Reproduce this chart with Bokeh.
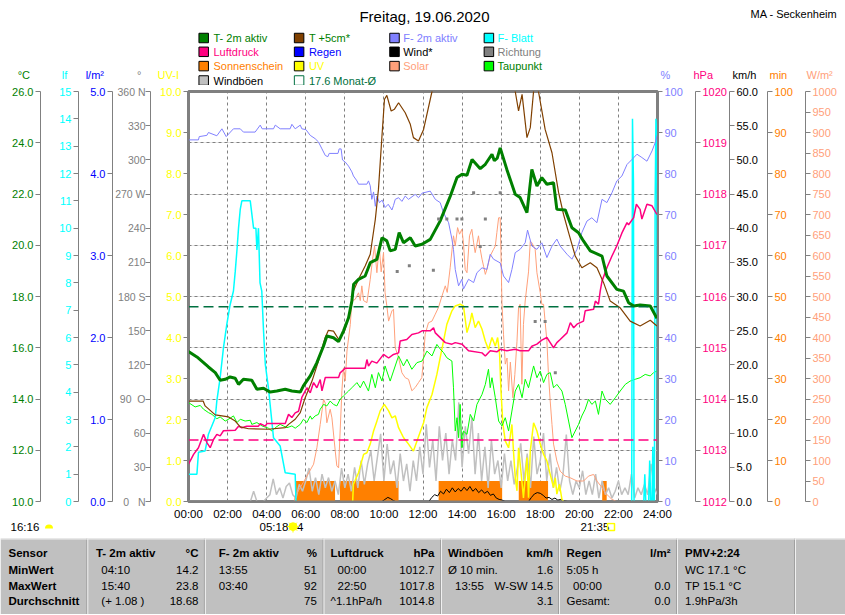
import math
from bokeh.plotting import figure
from bokeh.models import (Range1d, LinearAxis, FixedTicker, Grid, Span)
from bokeh.layouts import column
from bokeh.embed import file_html
from bokeh.resources import INLINE
from bokeh.core.properties import value

FONT = "Liberation Sans"
NAN = float("nan")

# ---------------------------------------------------------------- data
hour_ticks = list(range(0, 25, 2))

t2m_h = [0.00,0.43,0.77,1.02,1.37,1.62,1.88,2.13,2.39,2.56,2.81,3.24,3.50,3.84,4.18,4.52,4.95,5.29,5.72,5.88,
         6.23,6.57,6.91,7.08,7.42,7.68,7.93,8.19,8.36,8.45,8.70,9.04,9.30,9.64,9.90,10.15,10.32,10.58,10.78,11.00,
         11.35,11.60,11.95,12.37,12.88,13.40,13.74,14.00,14.25,14.51,14.93,15.19,15.53,15.65,15.80,15.95,16.29,16.72,16.97,17.32,
         17.57,17.83,18.08,18.34,18.68,18.85,19.28,19.62,19.96,20.21,20.56,21.16,21.41,21.92,22.26,22.52,22.78,23.11,23.63,23.97]
t2m_c = [15.85,15.64,15.42,15.25,15.03,14.73,14.77,14.86,14.81,14.57,14.77,14.73,14.38,14.42,14.27,14.31,14.38,14.31,14.27,14.51,
         14.90,15.42,16.07,16.46,16.39,16.24,16.65,17.17,17.82,18.48,18.67,18.80,19.32,19.45,20.29,20.17,19.78,19.84,20.49,20.10,
         20.29,19.97,20.04,20.23,20.95,21.92,22.64,22.77,22.73,23.35,22.99,23.16,23.55,23.30,23.40,23.80,22.96,21.99,21.86,21.27,
         22.96,22.31,22.64,22.38,22.44,21.40,21.38,20.68,20.49,20.17,19.78,19.58,18.80,18.28,18.21,17.76,17.63,17.67,17.63,17.15]

t5_h = [0.00,0.75,0.85,1.37,2.05,2.39,2.65,3.07,4.09,4.95,5.12,5.46,5.72,5.97,6.32,6.65,6.99,7.16,7.42,7.68,
        7.98,8.19,8.44,8.70,9.04,9.30,9.56,9.72,9.90,10.03,10.15,10.37,10.54,10.75,11.09,11.35,11.51,11.77,12.03,12.46,
        13.20,14.50,15.80,16.50,16.72,16.89,17.07,17.32,17.49,17.66,17.78,17.91,18.25,18.60,18.94,19.19,19.45,19.79,20.13,20.56,
        20.90,21.24,21.58,22.09,22.60,23.11,23.63,23.97]
t5_c = [13.92,13.92,13.73,13.38,13.30,13.14,12.91,12.84,12.82,12.88,13.01,13.21,13.47,14.05,14.70,15.48,16.39,16.68,16.65,16.33,
        16.65,17.17,18.21,18.67,19.19,19.65,21.01,22.18,24.26,25.70,25.85,25.24,25.31,25.56,25.17,24.72,24.20,24.07,24.52,26.00,
        28.50,29.50,28.50,26.80,26.00,25.24,25.89,24.20,24.59,26.02,26.80,26.00,24.52,23.61,22.05,21.21,20.49,19.58,19.12,19.32,
        19.12,18.54,17.82,17.56,17.04,16.85,17.07,16.85]

f2m_h = [0.00,0.51,0.55,0.94,1.02,1.45,1.71,1.93,2.30,2.65,2.81,3.41,3.67,3.77,4.35,4.44,4.69,5.20,5.29,5.46,
         5.72,5.80,6.01,6.23,6.48,6.65,6.83,7.00,7.13,7.20,7.65,7.71,7.81,7.88,8.02,8.19,8.36,8.44,8.62,8.70,
         9.13,9.21,9.30,9.38,9.47,9.56,9.64,9.77,9.91,10.06,10.22,10.41,10.49,10.58,10.75,10.92,11.09,11.26,11.60,11.77,
         11.95,12.37,12.63,12.88,13.05,13.31,13.48,13.56,13.65,13.82,13.99,14.07,14.33,14.59,14.76,15.02,15.27,15.44,15.61,15.95,
         16.12,16.38,16.55,16.72,16.97,17.23,17.35,17.57,17.83,18.08,18.34,18.60,18.85,19.02,19.37,19.62,19.88,20.13,20.39,20.64,
         20.90,21.16,21.41,21.67,21.92,22.18,22.44,22.69,22.95,23.20,23.46,23.72,23.88,24.00]
f2m_pct = [88.2,88.2,89.0,89.3,90.0,89.2,90.9,89.0,90.9,90.9,90.1,90.1,91.8,90.9,90.9,91.8,90.9,90.9,92.0,90.9,
           91.8,90.9,90.7,89.3,88.5,87.7,86.0,84.4,84.1,84.9,84.9,86.0,86.0,83.3,82.8,81.8,80.4,79.4,78.2,77.4,
           77.4,78.2,77.0,73.7,75.5,72.0,74.5,72.9,73.5,71.7,72.5,71.1,72.2,73.7,74.1,73.2,74.5,73.7,74.9,74.1,
           75.2,75.7,73.7,72.9,70.4,68.0,64.0,61.5,56.6,52.6,54.2,51.8,54.2,53.4,55.8,57.0,56.6,60.3,59.1,58.2,
           55.0,53.4,56.6,60.7,61.5,63.1,66.2,62.3,61.5,63.1,59.5,62.3,64.0,62.3,60.3,59.1,61.5,65.6,68.4,69.2,
           68.0,73.7,72.9,75.3,78.2,79.4,82.2,83.4,84.7,83.9,83.0,85.5,87.5,89.5]

dew_h = [0.00,0.34,0.60,0.77,1.02,1.20,1.45,1.62,1.88,2.13,2.30,2.48,2.65,2.90,3.16,3.24,3.50,3.76,4.09,4.27,
         4.44,4.69,5.04,5.29,5.46,5.72,5.88,6.06,6.23,6.32,6.48,6.65,6.74,6.91,7.08,7.25,7.42,7.59,7.76,7.93,
         8.19,8.36,8.62,8.79,8.96,9.21,9.38,9.56,9.72,9.90,10.06,10.32,10.49,10.75,11.00,11.18,11.43,11.69,11.95,12.20,
         12.46,12.71,12.88,13.05,13.22,13.48,13.56,13.65,13.74,13.82,13.90,13.99,14.07,14.25,14.42,14.59,14.76,15.02,15.19,15.35,
         15.44,15.53,15.70,15.87,16.04,16.21,16.38,16.55,16.72,16.89,17.07,17.23,17.40,17.66,17.83,18.00,18.17,18.34,18.51,18.68,
         18.85,19.11,19.28,19.45,19.62,19.79,19.96,20.13,20.30,20.47,20.64,20.82,20.98,21.16,21.33,21.58,21.84,22.09,22.35,22.60,
         22.86,23.11,23.37,23.63,23.80,23.97]
dew_c = [13.86,13.69,13.75,13.60,13.47,13.40,13.23,13.30,13.14,13.25,13.34,13.08,13.21,13.14,13.17,13.01,13.08,12.95,12.86,12.75,
         12.88,13.01,12.88,12.95,12.86,13.01,13.21,13.08,13.34,13.21,13.34,13.40,13.60,13.79,13.73,13.92,13.79,13.73,13.99,14.12,
         14.31,14.44,14.64,14.44,14.70,14.31,14.96,14.44,15.03,14.70,15.29,14.70,15.09,15.68,15.29,15.55,15.16,15.42,15.48,15.87,
         15.68,16.13,15.95,15.81,15.61,15.48,14.44,12.75,13.27,12.49,13.79,12.10,12.75,12.62,13.40,13.14,13.79,14.18,14.57,15.16,
         14.44,14.83,14.05,13.14,12.95,13.27,12.75,13.53,14.31,14.57,14.05,14.77,14.44,15.29,14.83,15.09,14.64,14.96,15.03,14.44,
         14.57,14.31,13.79,13.14,12.49,12.75,13.01,13.34,13.60,13.99,13.79,13.92,13.40,14.31,13.99,13.79,14.05,14.31,14.57,14.70,
         14.77,14.83,14.96,14.90,15.03,15.09]

press_h = [0.00,0.26,0.51,0.77,0.94,1.11,1.28,1.45,1.62,1.79,2.39,2.56,2.73,2.98,3.58,3.67,3.93,4.01,4.95,5.12,
           5.29,5.46,5.63,5.80,6.06,6.23,6.40,6.57,6.74,6.83,7.00,7.68,7.76,8.02,9.04,9.13,9.21,9.38,9.64,9.98,
           10.24,10.49,10.75,10.83,11.17,11.43,11.77,11.95,12.37,12.54,12.63,13.14,13.48,13.65,14.00,14.33,15.02,15.19,15.44,15.78,
           15.95,16.29,16.72,16.97,17.40,17.57,17.83,18.08,18.34,18.51,18.68,18.85,19.02,19.37,19.54,19.71,19.88,20.21,20.30,20.73,
           20.82,20.98,21.07,21.16,21.41,21.67,21.92,22.18,22.44,22.52,22.78,22.92,23.11,23.20,23.28,23.46,23.72,23.97]
press_hpa = [1012.73,1012.92,1013.05,1013.31,1013.15,1013.05,1013.21,1013.31,1013.28,1013.38,1013.39,1013.47,1013.44,1013.47,1013.47,1013.52,1013.47,1013.52,1013.52,1013.70,
             1013.64,1013.73,1013.76,1014.03,1014.22,1014.12,1014.32,1014.22,1014.38,1014.16,1014.42,1014.42,1014.51,1014.60,1014.60,1014.77,1014.64,1014.74,1014.70,1014.87,
             1014.80,1014.87,1014.90,1015.13,1015.16,1015.26,1015.29,1015.33,1015.33,1015.39,1015.29,1015.10,1015.07,1015.10,1015.07,1014.94,1014.90,1014.84,1014.94,1014.92,
             1014.97,1014.94,1014.97,1014.94,1014.94,1015.03,1015.07,1015.15,1015.20,1015.10,1015.00,1015.10,1015.16,1015.29,1015.49,1015.39,1015.46,1015.52,1015.72,1015.75,
             1015.91,1015.85,1016.11,1016.30,1016.56,1016.79,1016.99,1017.24,1017.44,1017.40,1017.54,1017.80,1017.70,1017.51,1017.60,1017.80,1017.77,1017.60]

solar_h = [5.40,5.46,5.72,6.06,6.40,6.57,6.74,6.91,7.00,
           7.08,7.25,7.34,7.51,7.59,7.68,7.76,7.85,7.93,8.02,
           8.11,8.28,8.36,8.53,8.70,8.79,8.87,8.96,9.13,9.30,
           9.42,9.52,9.64,9.76,9.86,9.98,10.06,10.15,10.24,10.41,
           10.49,10.58,10.75,10.92,11.09,11.26,11.43,11.60,11.77,11.94,
           12.03,12.11,12.28,12.46,12.63,12.79,12.97,13.14,13.24,13.39,
           13.56,13.65,13.77,13.87,13.99,14.07,14.16,14.25,14.38,14.50,
           14.59,14.67,14.84,14.93,15.02,15.10,15.19,15.27,15.35,15.44,
           15.61,15.70,15.78,15.87,15.95,16.00,16.04,16.12,16.21,16.30,
           16.38,16.47,16.60,16.70,16.81,16.89,16.97,17.06,17.14,17.23,
           17.40,17.49,17.57,17.74,17.83,18.00,18.08,18.17,18.34,18.42,
           18.51,18.60,18.68,18.85,19.02,19.28,19.53,19.88,20.22,20.47,
           20.73,20.90,21.16,21.33,21.67,21.92]
solar_w = [0,13,34,62,91,131,188,249,240,
           192,225,204,123,87,82,172,270,326,294,
           367,432,489,493,509,490,526,490,485,542,
           591,623,558,623,560,607,509,477,440,465,
           469,375,351,314,302,298,270,278,290,302,
           351,408,436,440,457,473,501,526,510,570,
           648,623,668,652,664,631,566,558,648,664,
           631,607,648,615,591,574,554,566,582,599,
           615,623,656,692,692,582,485,408,335,350,
           270,340,253,310,391,473,481,286,432,489,
           560,635,631,615,558,509,481,481,391,310,
           245,188,140,99,74,62,58,50,50,62,
           66,50,34,21,5,0]

uv_h = [8.40,8.44,8.70,8.96,9.13,9.30,9.47,9.64,9.81,
        10.02,10.24,10.41,10.58,10.75,11.00,11.26,11.51,11.86,12.03,
        12.20,12.46,12.71,12.88,13.05,13.22,13.48,13.65,13.90,14.07,
        14.25,14.42,14.50,14.67,14.84,15.02,15.19,15.35,15.53,15.70,
        15.82,15.92,15.99,16.09,16.21,16.38,16.55,16.63,16.72,16.81,
        16.89,17.06,17.14,17.32,17.40,17.49,17.66,17.83,18.00,18.17,
        18.34,18.51,18.68,18.77,18.85,18.98,19.11,19.20]
uv_i = [0,0.42,0.70,1.15,1.19,1.40,1.72,1.96,2.21,
        2.37,2.21,2.04,2.09,1.80,1.56,1.40,1.23,1.70,1.92,
        2.29,2.61,3.10,3.51,3.91,4.32,4.65,4.77,4.81,4.77,
        4.12,4.40,4.60,4.24,4.40,4.20,3.91,3.71,4.00,3.79,
        4.00,3.59,2.70,1.88,1.48,1.31,1.88,1.23,0.58,0.26,
        1.31,0.50,0.09,1.07,0.09,1.23,1.92,1.72,1.40,1.15,
        0.99,0.66,0.34,0.58,0.18,0.42,0.05,0]

leaf_h = [0.00,0.43,0.51,0.85,1.02,1.37,1.45,1.62,1.79,1.96,2.13,2.30,2.39,2.48,2.56,2.65,2.73,3.16,3.33,3.45,
          3.50,3.58,3.66,3.75,3.84,3.93,4.09,4.35,4.69,4.95,5.46,5.50,NAN,22.68,22.72,22.77,22.80,23.30,23.35,23.40,
          23.55,23.60,23.65,23.72,23.76,23.80,23.84,23.88,23.92,23.96,24.00]
leaf_lf = [1.0,1.0,1.8,1.85,2.46,3.07,3.68,4.53,5.63,6.48,7.2,7.7,8.4,9.2,10.0,10.7,11.0,11.0,10.0,10.0,
           9.2,10.0,8.0,7.7,6.24,5.02,4.16,2.33,2.03,1.05,1.0,0,NAN,0,14.0,11.7,0,0,1.0,0,
           0,1.5,0,0,2.0,0,0,11.0,14.0,13.5,3.0]

wind_h = [9.90,10.05,10.20,10.35,10.50,10.60,NAN,
          12.30,12.45,12.60,12.75,12.90,13.05,13.20,13.35,13.50,13.65,13.80,13.95,14.10,14.25,14.40,14.55,
          14.70,14.85,15.00,15.15,15.30,15.45,15.60,15.75,15.90,16.05,16.20,NAN,
          17.40,17.55,17.70,17.85,18.00,18.15,18.30,18.45,18.60,18.75,18.90,19.05,19.20,19.40]
wind_kmh = [0,0.3,0.6,0.4,0.1,0,NAN,
            0,0.6,1.0,0.8,1.5,1.1,1.8,1.3,2.0,1.4,1.9,1.5,2.1,1.6,2.2,1.5,
            1.9,1.3,1.7,1.2,1.5,0.9,1.1,0.5,0.3,0.2,0,NAN,
            0,0.6,1.1,1.3,1.2,0.9,0.5,0.6,0.3,0.5,0.2,0.3,0.1,0]

gust_h = [i / 6 for i in range(145)]          # 10-minute slots
gust_kmh = [0,0,0,0,0,0,0,0,0,0,
            0,0,0,0,0,0,0,0,0,0,
            1.5,0,0,0,0.5,1.0,3.3,1.0,2.0,0.5,
            2.2,2.7,1.0,0.5,2.5,1.5,3.0,4.9,1.5,3.5,
            1.0,4.0,2.0,3.5,1.5,3.0,1.0,4.9,2.0,4.0,
            1.5,5.0,2.0,6.0,2.5,5.5,7.4,3.0,6.5,9.9,
            3.0,8.4,4.0,6.0,2.0,7.0,3.0,5.5,1.5,6.0,
            3.0,8.0,4.0,11.3,5.0,9.0,3.0,11.0,6.0,10.0,
            4.0,9.0,6.0,14.5,5.0,11.0,7.0,12.3,4.0,10.0,
            3.0,8.0,2.0,9.0,4.0,6.0,2.0,7.0,3.0,6.0,
            2.5,5.0,8.5,3.0,7.0,2.0,9.5,4.0,6.0,10.0,
            3.0,7.0,2.0,5.0,1.5,4.0,9.8,3.0,1.0,3.0,
            2.0,4.5,1.0,3.0,1.0,4.0,0.5,3.0,1.0,2.0,
            0.5,1.5,3.0,1.0,2.0,1.0,4.0,0.5,2.0,1.0,
            2.5,1.0,5.5,2.0,1.0]

dir_h = [10.68,11.30,12.53,12.80,13.22,13.74,13.99,14.59,14.93,15.19,15.95,17.74,18.25,18.77]
dir_deg = [202,207,203,248,248,248,248,271,224,248,271,158,158,113]

sun_start = [5.50, 7.75, 12.80, 16.90, 21.17]
sun_end = [7.50, 10.75, 16.05, 18.40, 21.40]
sun_min = [5, 5, 5, 5, 5]

temp_month_avg = 17.6
press_month_avg = 1013.2

# ---------------------------------------------------------------- colours
C_T2M = "#008000"; C_T5 = "#804000"; C_F2M = "#8080FF"; C_LEAF = "#00FFFF"
C_PRESS = "#FF0080"; C_RAIN = "#0000FF"; C_WIND = "#000000"; C_DIR = "#808080"
C_SUN = "#FF8000"; C_UV = "#FFFF00"; C_SOLAR = "#FFA07A"; C_DEW = "#00FF00"
C_GUST = "#C0C0C0"; C_MONTH = "#007040"; GRAY = "#808080"
NB = "\u00a0"
PAGE_W = 845


def no_align(fig):
    try:
        fig.frame_align = False
    except Exception:
        pass


# ---------------------------------------------------------------- main chart
p = figure(width=PAGE_W, height=437, x_range=Range1d(0, 24), y_range=Range1d(10, 26),
           output_backend="svg", toolbar_location=None, y_axis_location=None,
           title_location=None,
           min_border_left=188, min_border_right=188, min_border_top=6, min_border_bottom=21,
           outline_line_color=GRAY, outline_line_width=3)
no_align(p)
p.extra_y_ranges = {
    "uv": Range1d(0, 10), "deg": Range1d(0, 360), "rain": Range1d(0, 5), "lf": Range1d(0, 15),
    "pct": Range1d(0, 100), "hpa": Range1d(1012, 1020), "kmh": Range1d(0, 60),
    "min": Range1d(0, 100), "wm2": Range1d(0, 1000),
}


def make_axis(rng, ticks, color, fmt, side, npad=0, standoff=2, special=None, size="11px"):
    ax = LinearAxis(y_range_name=rng, ticker=FixedTicker(ticks=ticks))
    labels = {}
    for t in ticks:
        s = special[t] if (special and t in special) else (fmt % t)
        labels[t] = (NB * npad + s) if side == "left" else (s + NB * npad)
    ax.major_label_overrides = labels
    ax.axis_line_color = GRAY
    ax.major_tick_line_color = GRAY
    ax.major_tick_out = 5
    ax.major_tick_in = 0
    ax.minor_tick_line_color = None
    ax.major_label_text_color = color
    ax.major_label_text_font = FONT
    ax.major_label_text_font_size = size
    ax.major_label_standoff = standoff
    return ax


deg_special = {0: "0" + NB * 3 + "N", 90: "90" + NB * 2 + "O", 180: "180" + NB + "S",
               270: "270" + NB + "W", 360: "360" + NB + "N"}

left_axes = [
    make_axis("uv", list(range(0, 11)), C_UV, "%.1f", "left", npad=2),
    make_axis("deg", list(range(0, 361, 30)), C_DIR, "%d", "left", npad=0, standoff=0,
              special=deg_special, size="10.5px"),
    make_axis("rain", list(range(0, 6)), C_RAIN, "%.1f", "left", npad=3),
    make_axis("lf", list(range(0, 16)), C_LEAF, "%d", "left", npad=5),
    make_axis("default", list(range(10, 27, 2)), C_T2M, "%.1f", "left", npad=0),
]
right_axes = [
    make_axis("pct", list(range(0, 101, 10)), C_F2M, "%d", "right", npad=3),
    make_axis("hpa", list(range(1012, 1021)), C_PRESS, "%d", "right", npad=0),
    make_axis("kmh", list(range(0, 61, 5)), "#000000", "%.1f", "right", npad=2),
    make_axis("min", list(range(0, 101, 10)), C_SUN, "%d", "right", npad=3),
    make_axis("wm2", list(range(0, 1001, 50)), C_SOLAR, "%d", "right", npad=0),
]
for ax in left_axes:
    p.add_layout(ax, "left")
for ax in right_axes:
    p.add_layout(ax, "right")

xa = p.xaxis[0]
xa.ticker = FixedTicker(ticks=hour_ticks)
xa.major_label_overrides = {h: "%02d:00" % h for h in hour_ticks}
xa.axis_line_color = GRAY
xa.axis_line_width = 2
xa.major_tick_out = 0
xa.major_tick_in = 0
xa.minor_tick_line_color = None
xa.major_label_text_font = FONT
xa.major_label_text_font_size = "11.5px"
xa.major_label_text_color = "#000000"
xa.major_label_standoff = 6

p.xgrid.ticker = FixedTicker(ticks=hour_ticks[1:-1])
p.xgrid.grid_line_color = GRAY
p.xgrid.grid_line_dash = "3 3"
ygrid = Grid(dimension=1, ticker=FixedTicker(ticks=list(range(12, 25, 2))),
             grid_line_color=GRAY, grid_line_dash="3 3")
p.add_layout(ygrid)

# series
p.quad(left=sun_start, right=sun_end, bottom=0, top=sun_min, y_range_name="min",
       fill_color=C_SUN, line_color=None)
p.line(gust_h, gust_kmh, y_range_name="kmh", line_color=C_GUST, line_width=1.5)
p.line(wind_h, wind_kmh, y_range_name="kmh", line_color=C_WIND, line_width=1)
p.line(solar_h, solar_w, y_range_name="wm2", line_color=C_SOLAR, line_width=1)
p.line(uv_h, uv_i, y_range_name="uv", line_color=C_UV, line_width=1.5)
p.line(dew_h, dew_c, line_color=C_DEW, line_width=1)
p.line(leaf_h, leaf_lf, y_range_name="lf", line_color=C_LEAF, line_width=1.5)
p.line(f2m_h, f2m_pct, y_range_name="pct", line_color=C_F2M, line_width=1)
p.line(press_h, press_hpa, y_range_name="hpa", line_color=C_PRESS, line_width=1.5)
p.add_layout(Span(location=temp_month_avg, dimension="width", line_color=C_MONTH,
                  line_dash="10 5", line_width=1.5, level="glyph"))
p.add_layout(Span(location=press_month_avg, dimension="width", y_range_name="hpa",
                  line_color=C_PRESS, line_dash="10 5", line_width=1.5, level="glyph"))
p.line(t5_h, t5_c, line_color=C_T5, line_width=1.2)
p.line(t2m_h, t2m_c, line_color=C_T2M, line_width=3)
p.scatter(dir_h, dir_deg, y_range_name="deg", marker="square", size=3,
          fill_color=C_DIR, line_color=None)

# ---------------------------------------------------------------- header
ph = figure(width=PAGE_W, height=85, x_range=Range1d(0, PAGE_W), y_range=Range1d(85, 0),
            output_backend="svg", toolbar_location=None, title_location=None,
            x_axis_location=None, y_axis_location=None, min_border=0,
            outline_line_color=None)
no_align(ph)
ph.grid.grid_line_color = None

ph.text(x=[424], y=[15.5], text=["Freitag, 19.06.2020"], text_font=value(FONT),
        text_font_size=value("15px"), text_color="#000000", text_align="center",
        text_baseline="middle")
ph.text(x=[750], y=[13.5], text=["MA - Seckenheim"], text_font=value(FONT),
        text_font_size=value("11px"), text_color="#000000", text_align="left",
        text_baseline="middle")

leg_cols_box = [203.2, 298.6, 394.0, 488.4]
leg_cols_txt = [213.0, 308.4, 402.7, 497.0]
leg_rows = [37.5, 51.3, 65.6, 80.0]
legend_items = [
    [(C_T2M, "T- 2m aktiv", C_T2M), (C_T5, "T +5cm*", C_T2M), (C_F2M, "F- 2m aktiv", C_F2M), (C_LEAF, "F- Blatt", C_LEAF)],
    [(C_PRESS, "Luftdruck", C_PRESS), (C_RAIN, "Regen", C_RAIN), (C_WIND, "Wind*", "#000000"), (C_DIR, "Richtung", C_DIR)],
    [(C_SUN, "Sonnenschein", C_SUN), (C_UV, "UV", C_UV), (C_SOLAR, "Solar", C_SOLAR), (C_DEW, "Taupunkt", C_T2M)],
    [(C_GUST, "Windböen", "#000000"), (None, "%.1f Monat-Ø" % temp_month_avg, C_MONTH)],
]
bx, by, bc, tx, ty, tt, tc = [], [], [], [], [], [], []
ox, oy = [], []
for r, row in enumerate(legend_items):
    for c, (boxcol, label, txtcol) in enumerate(row):
        if boxcol is None:
            ox.append(leg_cols_box[c]); oy.append(leg_rows[r])
        else:
            bx.append(leg_cols_box[c]); by.append(leg_rows[r]); bc.append(boxcol)
        tx.append(leg_cols_txt[c]); ty.append(leg_rows[r]); tt.append(label); tc.append(txtcol)
ph.rect(x=bx, y=by, width=9.5, height=9.5, fill_color=bc, line_color="#000000", line_width=1)
ph.rect(x=ox, y=oy, width=9.5, height=9.5, fill_color=None, line_color=C_MONTH, line_width=1)
ph.text(x=tx, y=ty, text=tt, text_color=tc, text_font=value(FONT), text_font_size=value("11px"),
        text_align="left", text_baseline="middle")

# axis titles
lt_x = [29.5, 66.7, 103.5, 141.0, 178.5]
lt_t = ["°C", "lf", "l/m²", "°", "UV-I"]
lt_c = [C_T2M, C_LEAF, C_RAIN, C_DIR, C_UV]
ph.text(x=lt_x, y=[74.5] * 5, text=lt_t, text_color=lt_c, text_font=value(FONT),
        text_font_size=value("11px"), text_align="right", text_baseline="middle")
rt_x = [660, 693, 732, 769, 806]
rt_t = ["%", "hPa", "km/h", "min", "W/m²"]
rt_c = [C_F2M, C_PRESS, "#000000", C_SUN, C_SOLAR]
ph.text(x=rt_x, y=[74.5] * 5, text=rt_t, text_color=rt_c, text_font=value(FONT),
        text_font_size=value("11px"), text_align="left", text_baseline="middle")

# ---------------------------------------------------------------- footer (sun times + table)
pf = figure(width=PAGE_W, height=92, x_range=Range1d(0, PAGE_W), y_range=Range1d(614, 522),
            output_backend="svg", toolbar_location=None, title_location=None,
            x_axis_location=None, y_axis_location=None, min_border=0,
            outline_line_color=None)
no_align(pf)
pf.grid.grid_line_color = None

sun_txt = [("16:16", 10.0), ("05:18", 259.0), ("4", 296.5), ("21:35", 580.0)]
pf.text(x=[s[1] for s in sun_txt], y=[526.0] * len(sun_txt), text=[s[0] for s in sun_txt],
        text_font=value(FONT), text_font_size=value("11.5px"), text_color="#000000",
        text_align="left", text_baseline="middle")
pf.scatter(x=[292.5], y=[526.0], marker="circle", size=8, fill_color=C_UV, line_color=C_UV)
pf.scatter(x=[292.5], y=[526.0], marker="asterisk", size=12, line_color=C_UV, line_width=1)
pf.scatter(x=[610.5], y=[526.5], marker="square", size=7, fill_color=None, line_color=C_UV, line_width=1.5)
pf.wedge(x=[48.5], y=[528.0], radius=4, start_angle=0, end_angle=math.pi, direction="anticlock",
         fill_color=C_UV, line_color=None)

pf.quad(left=[0], right=[PAGE_W], top=[538], bottom=[614], fill_color="#C0C0C0", line_color=None)
sep_x = [87.3, 204.9, 323.5, 441.0, 559.0, 677.0, 795.0]
pf.segment(x0=[x - 1 for x in sep_x], y0=[538] * 7, x1=[x - 1 for x in sep_x], y1=[614] * 7,
           line_color="#A0A0A0", line_width=1)
pf.segment(x0=sep_x, y0=[538] * 7, x1=sep_x, y1=[614] * 7, line_color="#F0F0F0", line_width=1)
pf.segment(x0=[0], y0=[538.5], x1=[PAGE_W], y1=[538.5], line_color="#F0F0F0", line_width=1)

R = [552.7, 569.0, 585.0, 600.7]
bold_left = [("Sensor", 8, R[0]), ("MinWert", 8, R[1]), ("MaxWert", 8, R[2]), ("Durchschnitt", 8, R[3]),
             ("T- 2m aktiv", 95.4, R[0]), ("F- 2m aktiv", 218.3, R[0]), ("Luftdruck", 330, R[0]),
             ("Windböen", 447.4, R[0]), ("Regen", 566, R[0]), ("PMV+2:24", 684.6, R[0])]
bold_right = [("°C", 198, R[0]), ("%", 316.4, R[0]), ("hPa", 434, R[0]), ("km/h", 552.6, R[0]),
              ("l/m²", 670, R[0])]
norm_left = [("04:10", 100.8, R[1]), ("15:40", 100.8, R[2]), ("(+ 1.08 )", 100.8, R[3]),
             ("13:55", 218.3, R[1]), ("03:40", 218.3, R[2]),
             ("00:00", 337, R[1]), ("22:50", 337, R[2]), ("^1.1hPa/h", 330, R[3]),
             ("Ø 10 min.", 447.4, R[1]), ("13:55", 454.5, R[2]),
             ("5:05 h", 566, R[1]), ("00:00", 572.5, R[2]), ("Gesamt:", 566, R[3]),
             ("WC 17.1 °C", 684.6, R[1]), ("TP 15.1 °C", 684.6, R[2]), ("1.9hPa/3h", 684.6, R[3])]
norm_right = [("14.2", 198, R[1]), ("23.8", 198, R[2]), ("18.68", 198, R[3]),
              ("51", 316.4, R[1]), ("92", 316.4, R[2]), ("75", 316.4, R[3]),
              ("1012.7", 434, R[1]), ("1017.8", 434, R[2]), ("1014.8", 434, R[3]),
              ("1.6", 552.6, R[1]), ("W-SW 14.5", 552.6, R[2]), ("3.1", 552.6, R[3]),
              ("0.0", 670, R[2]), ("0.0", 670, R[3])]
for cells, align, style in [(bold_left, "left", "bold"), (bold_right, "right", "bold"),
                            (norm_left, "left", "normal"), (norm_right, "right", "normal")]:
    pf.text(x=[c[1] for c in cells], y=[c[2] for c in cells], text=[c[0] for c in cells],
            text_font=value(FONT), text_font_size=value("11.5px"), text_color="#000000",
            text_font_style=style, text_align=align, text_baseline="middle")

layout = column(ph, p, pf)
open("out.html", "w").write(file_html(layout, INLINE))
